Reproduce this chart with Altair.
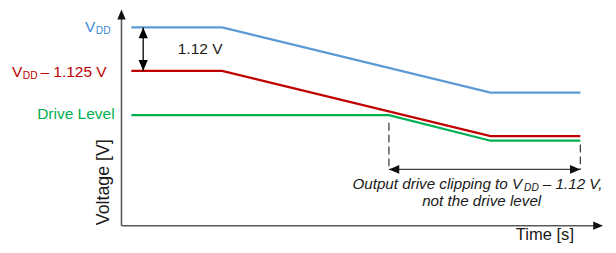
import altair as alt
import pandas as pd

FONT = "Liberation Sans"

# ---- data (time in arbitrary units, voltage in V) ----
vdd_time = [1.0, 10.2, 37.4, 46.5]
vdd_level = [5.11, 5.11, 3.43, 3.43]
clip_level = [3.99, 3.99, 2.31, 2.31]          # VDD - 1.125 V
drive_time = [1.0, 27.1, 37.4, 46.5]
drive_level = [2.85, 2.85, 2.19, 2.19]

series_names = ["VDD", "VDD - 1.125 V", "Drive Level"]
series_colors = ["#5B9BD5", "#C00000", "#00B050"]

T_MAX = 48.8
V_MAX = 5.57

rows = []
for t, v in zip(vdd_time, vdd_level):
    rows.append({"series": series_names[0], "t": t, "v": v})
for t, v in zip(vdd_time, clip_level):
    rows.append({"series": series_names[1], "t": t, "v": v})
for t, v in zip(drive_time, drive_level):
    rows.append({"series": series_names[2], "t": t, "v": v})
lines_df = pd.DataFrame(rows)

X = alt.X("t:Q", scale=alt.Scale(domain=[0, T_MAX], nice=False, zero=False), axis=None)
Y = alt.Y("v:Q", scale=alt.Scale(domain=[0, V_MAX], nice=False, zero=False), axis=None)

ARROW = "M0,0 L-0.85,2 L0.85,2 Z"

lines = alt.Chart(lines_df).mark_line(strokeWidth=2.2).encode(
    x=X, y=Y,
    color=alt.Color("series:N", scale=alt.Scale(domain=series_names, range=series_colors), legend=None),
    detail="series:N",
    order="t:Q",
)


def rule_h(t1, t2, v, color, width=1.5, dash=None):
    df = pd.DataFrame({"t": [t1], "t2": [t2], "v": [v]})
    kw = dict(color=color, strokeWidth=width)
    if dash:
        kw["strokeDash"] = dash
    return alt.Chart(df).mark_rule(**kw).encode(x=X, x2="t2:Q", y=Y)


def rule_v(t, v1, v2, color, width=1.5, dash=None):
    df = pd.DataFrame({"t": [t], "v": [v1], "v2": [v2]})
    kw = dict(color=color, strokeWidth=width)
    if dash:
        kw["strokeDash"] = dash
    return alt.Chart(df).mark_rule(**kw).encode(x=X, y=Y, y2="v2:Q")


def heads(ts, vs, angs, color, size=110):
    df = pd.DataFrame({"t": ts, "v": vs, "ang": angs})
    return alt.Chart(df).mark_point(shape=ARROW, filled=True, size=size, color=color,
                                    opacity=1, strokeWidth=0).encode(
        x=X, y=Y, angle=alt.Angle("ang:Q", scale=None))


def txt(t, v, s, color, size, align="left", dy=0, italic=False, angle=0, baseline="middle"):
    df = pd.DataFrame({"t": [t], "v": [v], "s": [s]})
    kw = dict(align=align, baseline=baseline, dy=dy, fontSize=size, font=FONT, color=color,
              fontStyle="italic" if italic else "normal")
    if angle:
        kw["angle"] = angle
    return alt.Chart(df).mark_text(**kw).encode(x=X, y=Y, text="s:N")


AX = "#595959"
DK = "#404040"
TXT = "#1a1a1a"
BLUE_TXT = "#3A8BD4"

layers = [
    # axes
    rule_h(0, T_MAX - 0.5, 0, AX, 1.6),
    rule_v(0, 0, V_MAX - 0.15, AX, 1.6),
    heads([0], [V_MAX], [0], "#111111", 100),
    heads([T_MAX], [0], [90], "#111111", 100),
    # data lines
    lines,
    # 1.12 V vertical double arrow
    rule_v(2.2, 5.11, 3.99, "#000000", 1.3),
    heads([2.2, 2.2], [5.11, 3.99], [0, 180], "#000000", 121),
    txt(5.7, 4.55, "1.12 V", TXT, 15.7),
    # dashed markers and horizontal double arrow
    rule_v(27.1, 2.65, 1.45, DK, 1.3, [8, 4]),
    rule_v(46.5, 2.09, 1.45, DK, 1.3, [8, 4]),
    rule_h(27.1, 46.5, 1.45, DK, 1.3),
    heads([27.1, 46.5], [1.45, 1.45], [270, 90], "#111111", 110),
    # annotation
    txt(23.4, 1.07, "Output drive clipping to V", TXT, 15.4, italic=True),
    txt(40.8, 1.07, "DD", TXT, 10.4, italic=True, dy=4),
    txt(42.7, 1.07, "\u2013 1.12 V,", TXT, 15.4, italic=True),
    txt(36.5, 0.64, "not the drive level", TXT, 15.4, align="center", italic=True),
    # left labels
    txt(-3.7, 5.11, "V", BLUE_TXT, 15.7),
    txt(-2.6, 5.11, "DD", BLUE_TXT, 10.4, dy=4),
    txt(-11.1, 3.99, "V", "#C00000", 15.7, dy=1),
    txt(-10.0, 3.99, "DD", "#C00000", 10.4, dy=5),
    txt(-1.5, 3.99, "\u2013 1.125 V", "#C00000", 15.7, align="right", dy=1),
    txt(-0.7, 2.85, "Drive Level", "#00B050", 15.7, align="right", dy=-1),
    # axis titles
    txt(-1.8, 1.12, "Voltage [V]", TXT, 18, align="center", angle=270),
    txt(42.9, -0.36, "Time [s]", TXT, 16.8, align="center", baseline="alphabetic"),
]

chart = alt.layer(*layers).properties(
    width=488,
    height=219,
    padding={"left": 115, "top": 0, "right": 5, "bottom": 18},
    autosize=alt.AutoSizeParams(type="none"),
    background="white",
).configure_view(strokeWidth=0)

chart.save("out.html", embed_options={"renderer": "svg", "actions": False})
